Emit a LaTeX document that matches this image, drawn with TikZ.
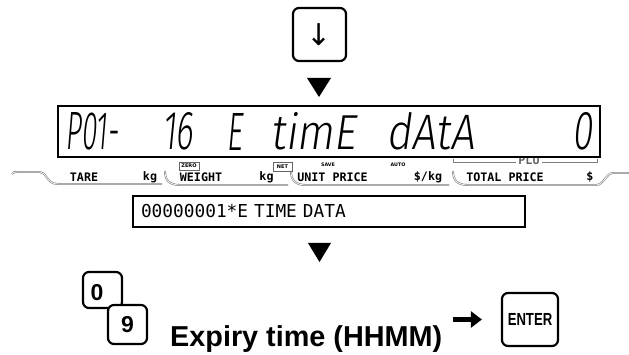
\documentclass[tikz,border=0pt]{standalone}
\usepackage{fontspec}
\setmainfont{Liberation Sans}
\newfontfamily\lcdfont[FakeSlant=0.16]{Fira Sans Light}
\newfontfamily\gothfont{DejaVu Sans Mono}
\newfontfamily\symfont{DejaVu Sans}
\usepackage{tikz}
\usetikzlibrary{arrows.meta}
\definecolor{tabgray}{RGB}{125,125,125}
\definecolor{boxgray}{RGB}{100,100,100}

\tikzset{
  keybox/.style={draw,line width=2.2pt,rounded corners=6pt,fill=white,inner sep=0pt},
  keydigit/.style={inner sep=0pt,font=\bfseries\fontsize{23}{24}\selectfont},
  barlabel/.style={inner sep=0pt,font=\gothfont\bfseries\fontsize{11.7}{12}\selectfont},
  tinylabel/.style={inner sep=0pt,font=\symfont\bfseries\fontsize{4.8}{5}\selectfont},
  tinybox/.style={draw=boxgray,line width=0.5pt,inner sep=0pt,font=\symfont\bfseries\fontsize{5}{5}\selectfont},
  tabline/.style={draw=tabgray,line width=0.6pt,double=white,double distance=0.7pt},
  lcdglyph/.style={inner sep=0pt,font=\lcdfont},
  msgbox/.style={draw,line width=1.2pt,minimum height=31pt,text width=376pt,align=left,
    inner xsep=8pt,font=\gothfont\fontsize{17.8}{18}\selectfont},
  nextarrow/.style={line width=5pt,-{Triangle[width=16pt,length=11pt]}}
}

\begin{document}
\begin{tikzpicture}[x=1pt,y=-1pt]
  \useasboundingbox (0,0) rectangle (629,355);
  % down key
  \node[keybox,minimum width=53pt,minimum height=53pt,font=\symfont\fontsize{30}{30}\selectfont] (downkey) at (319.5,34.5) {↓};
  \fill (307,78) -- (331,78) -- (319,97) -- cycle;
  % tabs under the display
  \draw[tabline] (12,174) .. controls (13,172.5) and (14,172) .. (18,172) -- (40,172)
    .. controls (47,172) and (46,184) .. (58,184) -- (162,184);
  \draw[tabline] (165,171) .. controls (165,180) and (169,185) .. (180,185) -- (288,185);
  \draw[tabline] (291,171) .. controls (291,180) and (295,185) .. (306,185) -- (449,185);
  \draw[tabline] (453,171) .. controls (453,180) and (457,185) .. (468,185) -- (596,185)
    .. controls (604,185) and (606,173) .. (613,173) -- (629,173);
  \foreach \x/\txt [count=\i] in {84/TARE,150/kg,201/WEIGHT,266.5/kg,332.5/UNIT PRICE,
      428/{\$/kg},505/TOTAL PRICE,590/\$}
    \node[barlabel] (lab\i) at (\x,177) {\txt};
  \node[tinybox,minimum width=20pt,minimum height=8pt] (zero) at (189,166) {ZERO};
  \node[tinybox,minimum width=19pt,minimum height=9pt] (net) at (282.5,166.5) {NET};
  \node[tinylabel] (save) at (328,165) {SAVE};
  \node[tinylabel] (auto) at (398,165) {AUTO};
  % PLU bracket, partly under the display
  \draw[tabgray,line width=0.6pt] (453,159) -- (453,162) -- (597,162) -- (597,159);
  \node[barlabel,fill=white,text=boxgray,inner xsep=2pt] (plu) at (529,160) {PLU};
  % display
  \node[draw,line width=1.8pt,fill=white,minimum width=542pt,minimum height=51pt] (lcd) at (329,131.5) {};
  \foreach \x/\w/\txt [count=\i] in {65/53/P01-,162/31/16,226/16/E,270/86/timE,386/88/dAtA,572/20/0}
    \node[lcdglyph,anchor=west] (seg\i) at (\x,131.5) {\resizebox{\w pt}{37pt}{\txt}};
  % message line
  \node[msgbox] (msg) at (329,211.5) {00000001*E TIME DATA};
  \fill (308,243) -- (331,243) -- (319.5,262) -- cycle;
  % numeric keys and enter
  \node[keybox,minimum width=39pt,minimum height=36pt] (key0) at (102.5,290) {};
  \node[keydigit] (digit0) at (97,293) {0};
  \node[keybox,keydigit,minimum width=39pt,minimum height=39pt] (key9) at (127.5,324.5) {9};
  \node[anchor=base west,inner sep=0pt,font=\bfseries\fontsize{28.8}{30}\selectfont] (expiry) at (170,346) {Expiry time (HHMM)};
  \node[keybox,minimum width=56pt,minimum height=53pt,font=\bfseries\fontsize{17.5}{18}\selectfont] (enter) at (530,319.5) {\scalebox{0.75}[1]{ENTER}};
  \draw[nextarrow,shorten <=11pt,shorten >=19pt] (expiry.east |- enter.west) -- (enter.west);
\end{tikzpicture}
\end{document}
